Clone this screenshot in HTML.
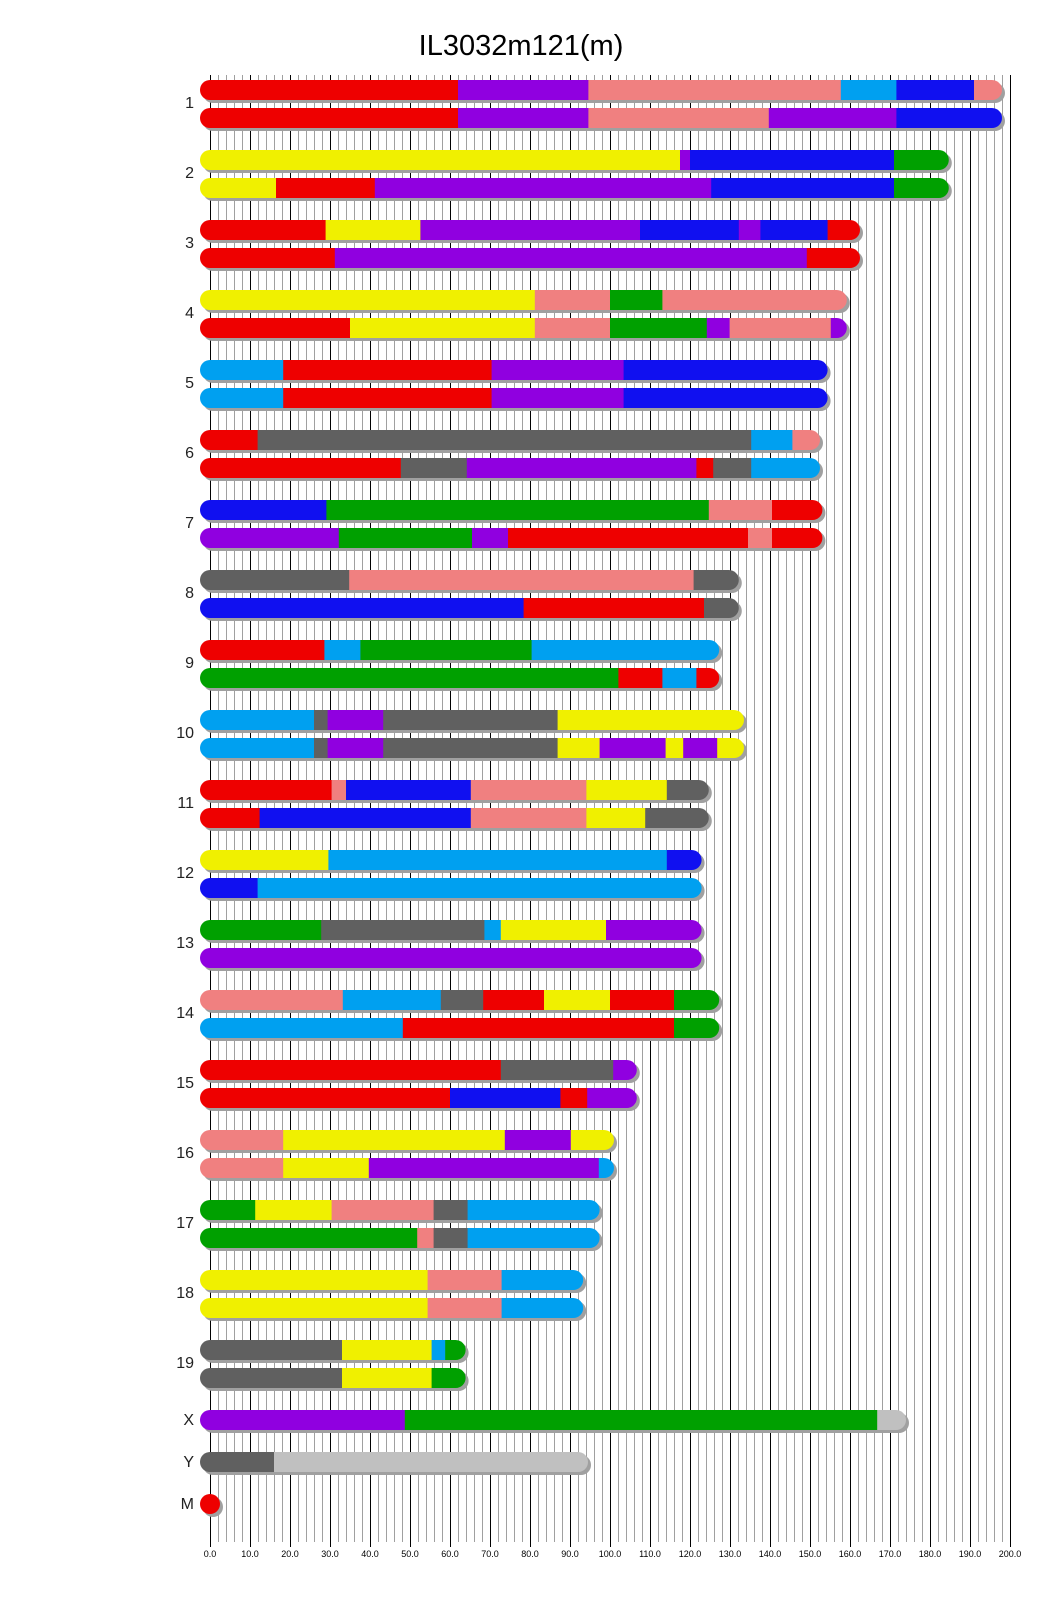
<!DOCTYPE html>
<html><head><meta charset="utf-8"><style>body{margin:0;background:#fff}svg{display:block}</style></head>
<body>
<svg id="s" xmlns="http://www.w3.org/2000/svg" width="1040" height="1616" viewBox="0 0 1040 1616">
<rect width="1040" height="1616" fill="#fff"/>
<g id="grid"></g>
<g id="bars"></g>
<text x="521" y="55" font-family="Liberation Sans, sans-serif" font-size="29" text-anchor="middle" fill="#000">IL3032m121(m)</text>
<g font-family="Liberation Sans, sans-serif" font-size="16" text-anchor="end" fill="#222">
<text x="194" y="108">1</text><text x="194" y="178">2</text><text x="194" y="248">3</text><text x="194" y="318">4</text><text x="194" y="388">5</text><text x="194" y="458">6</text><text x="194" y="528">7</text><text x="194" y="598">8</text><text x="194" y="668">9</text><text x="194" y="738">10</text><text x="194" y="808">11</text><text x="194" y="878">12</text><text x="194" y="948">13</text><text x="194" y="1018">14</text><text x="194" y="1088">15</text><text x="194" y="1158">16</text><text x="194" y="1228">17</text><text x="194" y="1298">18</text><text x="194" y="1368">19</text><text x="194" y="1425">X</text><text x="194" y="1467">Y</text><text x="194" y="1509">M</text>
</g>
<g font-family="Liberation Sans, sans-serif" font-size="9" text-anchor="middle" fill="#000">
<text x="210" y="1557">0.0</text><text x="250" y="1557">10.0</text><text x="290" y="1557">20.0</text><text x="330" y="1557">30.0</text><text x="370" y="1557">40.0</text><text x="410" y="1557">50.0</text><text x="450" y="1557">60.0</text><text x="490" y="1557">70.0</text><text x="530" y="1557">80.0</text><text x="570" y="1557">90.0</text><text x="610" y="1557">100.0</text><text x="650" y="1557">110.0</text><text x="690" y="1557">120.0</text><text x="730" y="1557">130.0</text><text x="770" y="1557">140.0</text><text x="810" y="1557">150.0</text><text x="850" y="1557">160.0</text><text x="890" y="1557">170.0</text><text x="930" y="1557">180.0</text><text x="970" y="1557">190.0</text><text x="1010" y="1557">200.0</text>
</g>
</svg>
<script>
var NS="http://www.w3.org/2000/svg";
function el(t,a,p){var e=document.createElementNS(NS,t);for(var k in a)e.setAttribute(k,a[k]);p.appendChild(e);return e;}
var g=document.getElementById('grid');
for(var i=0;i<=100;i++){var x=210+8*i;var maj=i%5==0;
el('line',{x1:x+0.5,x2:x+0.5,y1:75,y2:maj?1547:1542,stroke:maj?'#000':'#a0a0a0','stroke-width':1},g);}
var C={r:'#ee0000',p:'#9000e0',s:'#f08080',k:'#00a0f0',b:'#1010f0',y:'#f0f000',g:'#00a000',d:'#606060',l:'#c0c0c0'};
var D=[
[195.5,"r62 p94.6 s157.7 k171.6 b191 s","r62 p94.6 s139.7 p171.6 b"],
[182.2,"y117.5 p120 b171 g","y16.5 r41.2 p125.3 b171 g"],
[160,"r28.9 y52.6 p107.5 b132.2 p137.6 b154.4 r","r31.2 p149.2 r"],
[156.7,"y81.2 s100 g113.1 s","r35 y81.2 s100 g124.2 p129.9 s155.2 p"],
[151.9,"k18.3 r70.4 p103.4 b","k18.3 r70.4 p103.4 b"],
[150,"r11.9 d135.3 k145.6 s","r47.7 d64.2 p121.6 r125.8 d135.3 k"],
[150.6,"b29.1 g124.7 s140.5 r","p32.2 g65.5 p74.5 r134.5 s140.5 r"],
[129.7,"d34.8 s120.9 d","b78.4 r123.5 d"],
[124.8,"r28.6 k37.6 g80.4 k","g102.1 r113.1 k121.6 r"],
[131,"k26 d29.4 p43.3 d86.9 y","k26 d29.4 p43.3 d86.9 y97.4 p113.9 y118.3 p126.8 y"],
[122.2,"r30.4 s34 b65.2 s94.1 y114.2 d","r12.4 b65.2 s94.1 y108.8 d"],
[120.4,"y29.6 k114.2 b","b11.9 k"],
[120.4,"g27.8 d68.6 k72.7 y99 p","p"],
[124.8,"s33.2 k57.7 d68.3 r83.5 y100 r116 g","k48.2 r116 g"],
[104.2,"r72.7 d100.8 p","r60 b87.6 r94.3 p"],
[98.5,"s18.3 y73.7 p90.2 y","s18.3 y39.7 p97.2 k"],
[94.9,"g11.3 y30.4 s55.9 d64.4 k","g51.8 s55.9 d64.4 k"],
[90.8,"y54.4 s72.9 k","y54.4 s72.9 k"],
[61.4,"d33 y55.4 k58.8 g","d33 y55.4 g"]];
var B=document.getElementById('bars');var cid=0;
function bar(L,spec,y){
 var w=4*L+20;
 el('rect',{x:203,y:y+3,width:w,height:20,rx:10,fill:'#a0a0a0'},B);
 var cp=el('clipPath',{id:'c'+cid},B);el('rect',{x:200,y:y,width:w,height:20,rx:10},cp);
 var gg=el('g',{'clip-path':'url(#c'+cid+')'},B);cid++;
 var parts=spec.split(' ');var start=200;
 parts.forEach(function(p,i){var col=C[p[0]];var end=(i==parts.length-1)?220+4*L:210+4*parseFloat(p.slice(1));
  el('rect',{x:start,y:y,width:end-start+0.5,height:20,fill:col},gg);start=end;});
}
D.forEach(function(d,i){bar(d[0],d[1],80+70*i);bar(d[0],d[2],108+70*i);});
bar(171.5,"p48.7 g166.8 l",1410);
bar(92,"d16 l",1452);
el('circle',{cx:213,cy:1507,r:10,fill:'#a0a0a0'},B);
el('circle',{cx:210,cy:1504,r:10,fill:'#ee0000'},B);
</script>
</body></html>
